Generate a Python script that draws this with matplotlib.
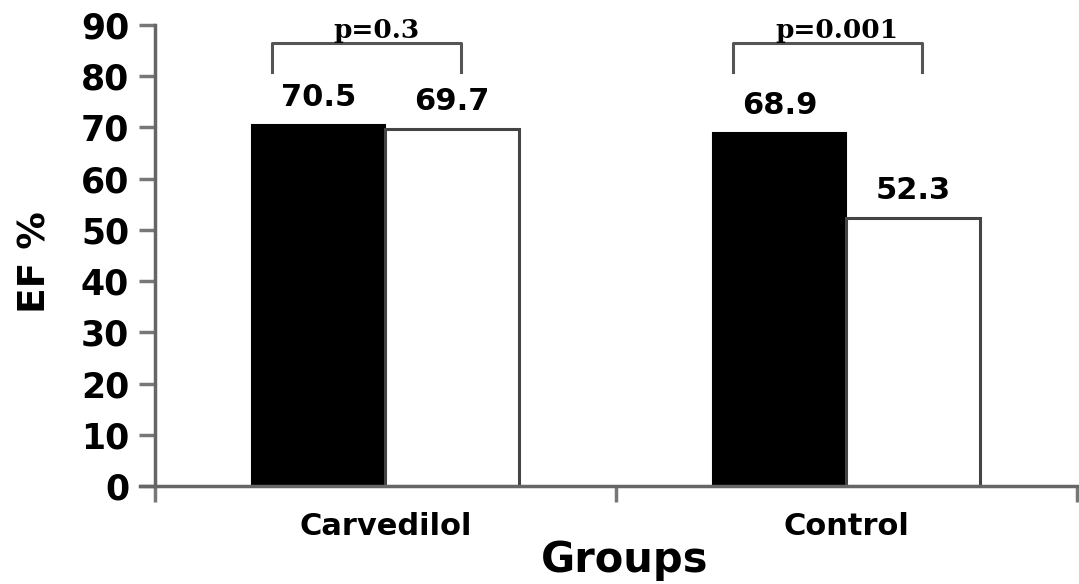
import numpy as np
import matplotlib
matplotlib.use("Agg")
import matplotlib.pyplot as plt

groups = ["Carvedilol", "Control"]
before = [70.5, 68.9]
after = [69.7, 52.3]
p_labels = ["p=0.3", "p=0.001"]
y_ticks = [0, 10, 20, 30, 40, 50, 60, 70, 80, 90]

fig = plt.figure(figsize=(10.79, 5.84), dpi=100)
ax = fig.add_axes([0.1297, 0.1678, 0.8684, 0.7894])

x = np.arange(len(groups))
w = 0.29
ax.bar(x - w / 2, before, w, color="black", edgecolor="black", linewidth=1.5)
ax.bar(x + w / 2, after, w, color="white", edgecolor="#444444", linewidth=2.2)

for xi, b, a in zip(x, before, after):
    ax.text(xi - w / 2, b + 2.6, f"{b}", ha="center", va="bottom",
            fontsize=22, fontweight="bold")
    ax.text(xi + w / 2, a + 2.6, f"{a}", ha="center", va="bottom",
            fontsize=22, fontweight="bold")

# significance brackets
for xi, p in zip(x, p_labels):
    bx = [xi - 0.245, xi - 0.245, xi + 0.165, xi + 0.165]
    by = [80.8, 86.5, 86.5, 80.8]
    ax.plot(bx, by, color="#555555", lw=2.2, clip_on=False)
    ax.text(xi - 0.02, 87.4, p, ha="center", va="baseline", fontsize=19,
            family="DejaVu Serif", fontweight="bold", clip_on=False)

ax.set_xlim(-0.532, 1.486)
ax.set_ylim(0, 90)

for s in ["top", "right"]:
    ax.spines[s].set_visible(False)
ax.spines["left"].set_position(("data", -0.5))
ax.spines["left"].set_bounds(0, 90)
for s in ["left", "bottom"]:
    ax.spines[s].set_color("#666666")
    ax.spines[s].set_linewidth(2.5)

ax.set_yticks(y_ticks)
ax.set_yticklabels([str(t) for t in y_ticks], fontsize=25, fontweight="bold")
ax.tick_params(axis="y", length=11.5, width=2.5, color="#777777", pad=7)

ax.set_xticks([-0.5, 0.5, 1.5])
ax.set_xticklabels([])
ax.tick_params(axis="x", which="major", length=11.5, width=2.5, color="#777777")
ax.set_xticks(x, groups, minor=True)
ax.tick_params(axis="x", which="minor", length=0, pad=19, labelsize=22)
for lbl in ax.get_xticklabels(minor=True):
    lbl.set_fontweight("bold")

fig.text(36 / 1079, 1 - 262 / 584, "EF %", rotation=90, ha="center", va="center",
         fontsize=27, fontweight="bold")
fig.text(625 / 1079, 1 - 560 / 584, "Groups", ha="center", va="center",
         fontsize=30, fontweight="bold")

fig.savefig("out.png", dpi=100)
